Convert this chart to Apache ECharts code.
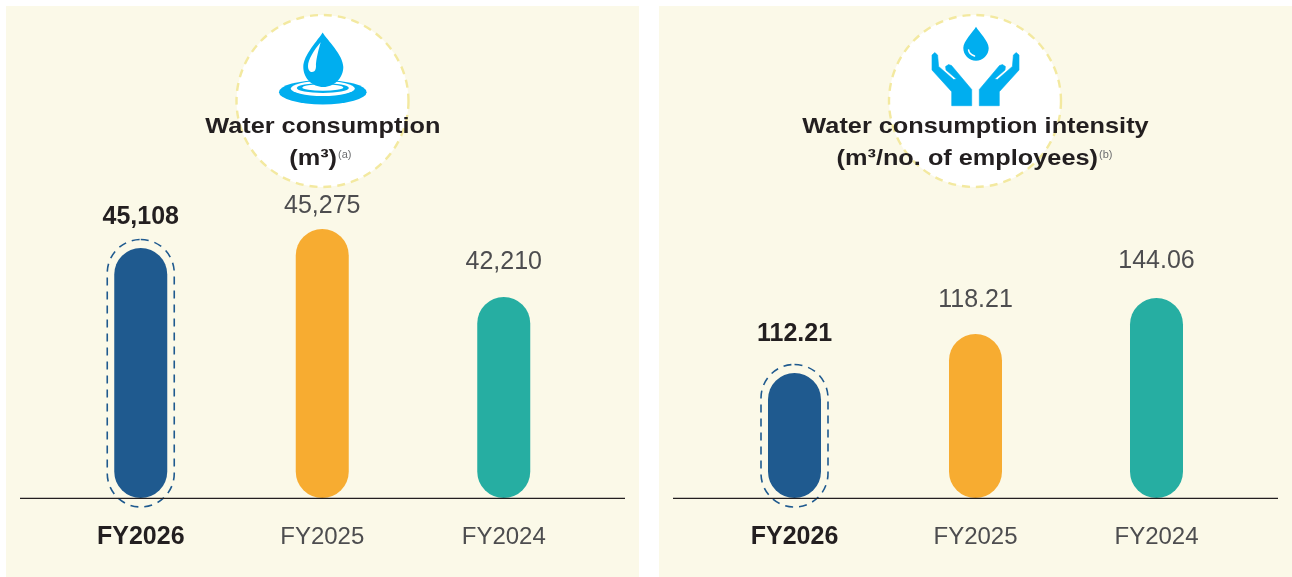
<!DOCTYPE html>
<html><head><meta charset="utf-8">
<style>html,body{margin:0;padding:0;background:#fff}#c{width:1292px;height:577px}</style>
<script src="https://cdn.jsdelivr.net/npm/echarts@6/dist/echarts.min.js"></script>
</head><body><div id="c"></div>
<script>
// The categories and printed figures of the reference
const years = ['FY2026', 'FY2025', 'FY2024'];
const waterLabels = ['45,108', '45,275', '42,210'];
const intensityLabels = ['112.21', '118.21', '144.06'];
// The reference's bars are illustrative, not to scale with their printed figures,
// so the bar lengths are read from the picture, on an axis of 0-300.
const waterBarLengths = [250, 269, 201];
const intensityBarLengths = [125, 164, 200];

const INK = '#231F20', SOFT = '#4D4D4F', CREAM = '#FBF9E8', DASH = '#F3E9A0', SKY = '#00AEEF', NAVY = '#1F5A8F';
const COLORS = [NAVY, '#F7AC31', '#26AEA2'];
const FONT = '"Liberation Sans", Arial, sans-serif';

function catAxis(i) {
  return {
    type: 'category', gridIndex: i,
    data: years.map((y, k) => k === 0
      ? {value: y, textStyle: {fontWeight: 'bold', fontSize: 25, color: INK}}
      : {value: y, textStyle: {fontSize: 24, color: SOFT}}),
    axisLine: {show: false}, axisTick: {show: false},
    axisLabel: {margin: 27, fontFamily: FONT, interval: 0}
  };
}
function valAxis(i) {
  return {type: 'value', gridIndex: i, min: 0, max: 300, show: false, splitLine: {show: false}};
}
function barSeries(i, lengths, labels, gaps) {
  return {
    type: 'bar', xAxisIndex: i, yAxisIndex: i, barWidth: 53, z: 3, silent: true,
    data: lengths.map((v, k) => ({
      value: v,
      itemStyle: {color: COLORS[k], borderRadius: 26.5},
      label: {
        show: true, position: 'top', distance: gaps[k], formatter: labels[k], fontFamily: FONT,
        fontSize: 25, fontWeight: k === 0 ? 'bold' : 'normal', color: k === 0 ? INK : SOFT
      }
    }))
  };
}
function highlight(i, lengths) {
  return {
    type: 'custom', xAxisIndex: i, yAxisIndex: i, z: 4, silent: true,
    data: [[0, lengths[0]]],
    renderItem(p, api) {
      const t = api.coord([api.value(0), api.value(1)]);
      const b = api.coord([api.value(0), 0]);
      const w = 67, top = t[1] - 8.5, bot = b[1] + 9;
      return {type: 'rect',
        shape: {x: t[0] - w / 2, y: top, width: w, height: bot - top, r: w / 2},
        style: {fill: 'none', stroke: NAVY, lineWidth: 1.6, lineDash: [8, 6]}};
    }
  };
}
function panel(x, w) {
  return {type: 'rect', z: -10, silent: true, shape: {x, y: 6, width: w, height: 571}, style: {fill: CREAM}};
}
function badge(cx) {
  return {type: 'circle', z: 1, silent: true, shape: {cx, cy: 101, r: 86},
    style: {fill: '#fff', stroke: DASH, lineWidth: 2.4, lineDash: [8, 6]}};
}
function axisRule(x1, x2) {
  return {type: 'line', z: 20, silent: true, shape: {x1, y1: 498.4, x2, y2: 498.4}, style: {stroke: INK, lineWidth: 1.4}};
}
function heading(text, x, y, align) {
  return {type: 'text', z: 20, silent: true, x, y, scaleX: 1.15,
    style: {text, x: 0, y: 0, align, verticalAlign: 'middle', font: 'bold 22px ' + FONT, fill: INK}};
}
function note(text, x, y) {
  return {type: 'text', z: 20, silent: true, x, y,
    style: {text, x: 0, y: 0, align: 'left', verticalAlign: 'middle', font: '11px ' + FONT, fill: '#6D6E71'}};
}
function ellipse(cx, cy, rx, ry, fill, z) {
  return {type: 'circle', z, silent: true, x: cx, y: cy, scaleY: ry / rx, shape: {cx: 0, cy: 0, r: rx}, style: {fill}};
}
function shape(d, x, y, width, height, fill) {
  return {type: 'path', shape: {pathData: d, layout: 'cover', x, y, width, height}, style: {fill}};
}
function hand(mirror) {
  const pts = [[932,55],[934.8,52.6],[937.6,55],[938.6,66.4],[953.6,79.6],[956.4,79],[946,70],[945.6,66.5],[948.5,64.6],[951.5,65.5],[971.7,89.5],[971.7,105.7],[951.7,105.7],[951.7,91.7],[932,70]];
  return {type: 'polygon', shape: {points: pts.map(p => [mirror ? 1951 - p[0] : p[0], p[1]])},
    style: {fill: SKY, stroke: SKY, lineWidth: 0.6, lineJoin: 'round'}};
}
const iconSeries = {
  type: 'custom', coordinateSystem: 'none', z: 8, silent: true, data: [[0]],
  renderItem() {
    return {type: 'group', children: [
      shape('M322.5 32.5C318 40 303 55 303 67C303 78 312 87 323.3 87C334 87 343.3 78 343.3 67C343.3 55 327 40 322.5 32.5Z', 303.3, 32.5, 40, 54.5, SKY),
      shape('M320.7 42.3C314 50 308 60 308 66C308 70 310 72 312 72C315 72 316 69 316 66C316 58 320.7 42.3 320.7 42.3Z', 308, 42.3, 12.7, 29.7, '#fff'),
      shape('M976 26.7C973 32 963.3 41 963.3 48C963.3 55 969 60.7 976 60.7C983 60.7 988.7 55 988.7 48C988.7 41 979 32 976 26.7Z', 963.3, 26.7, 25.4, 34, SKY),
      {type: 'bezierCurve', shape: {x1: 968.6, y1: 50, x2: 974.5, y2: 56, cpx1: 969, cpy1: 54}, style: {stroke: '#fff', lineWidth: 1.6, fill: 'none', lineCap: 'round'}},
      hand(false), hand(true)
    ]};
  }
};

const option = {
  animation: false,
  textStyle: {fontFamily: FONT},
  grid: [
    {left: 50, width: 544.5, top: 198, height: 300},
    {left: 704, width: 543, top: 198, height: 300}
  ],
  xAxis: [catAxis(0), catAxis(1)],
  yAxis: [valAxis(0), valAxis(1)],
  series: [
    barSeries(0, waterBarLengths, waterLabels, [18.5, 10.5, 22.5]),
    highlight(0, waterBarLengths),
    barSeries(1, intensityBarLengths, intensityLabels, [26.5, 21.5, 24.5]),
    highlight(1, intensityBarLengths),
    iconSeries
  ],
  graphic: {elements: [
    panel(6, 633), panel(659, 633),
    badge(322.5), badge(975),
    axisRule(20, 625), axisRule(673, 1278),
    ellipse(322.8, 92.2, 43.8, 12.2, SKY, 2),
    ellipse(322.8, 88.5, 32, 7.5, '#fff', 3),
    ellipse(322.8, 88, 26, 5, SKY, 4),
    ellipse(322.8, 87.5, 20.5, 3.2, '#fff', 5),
    heading('Water consumption', 322.8, 127, 'center'),
    heading('(m\u00B3)', 337, 159, 'right'),
    note('(a)', 338, 155),
    heading('Water consumption intensity', 975.5, 127, 'center'),
    heading('(m\u00B3/no. of employees)', 1098, 159, 'right'),
    note('(b)', 1099, 155)
  ]}
};
echarts.init(document.getElementById('c'), null, {renderer: 'canvas'}).setOption(option);
</script></body></html>
